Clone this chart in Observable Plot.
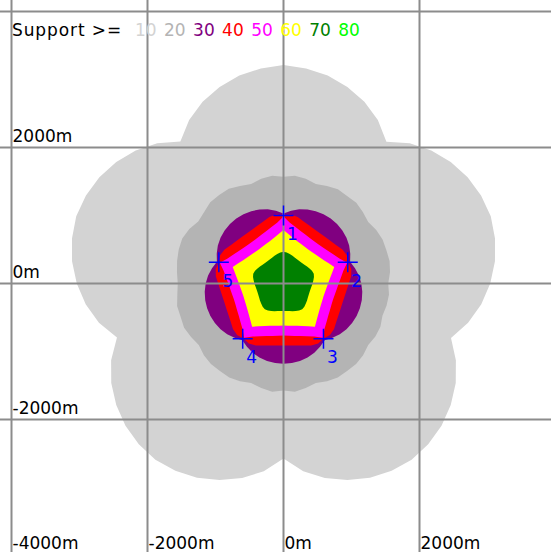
<!DOCTYPE html>
<html>
<head>
<meta charset="utf-8">
<script src="https://cdn.jsdelivr.net/npm/d3@7"></script>
<script src="https://cdn.jsdelivr.net/npm/@observablehq/plot@0.6"></script>
<style>
  html, body { margin: 0; padding: 0; background: #ffffff; overflow: hidden; }
  #wrap { position: relative; width: 551px; height: 552px; }
  #legend { position: absolute; left: 12px; top: 20px; font: 17px "DejaVu Sans", sans-serif; line-height: 20px; white-space: pre; display: flex; }
  #legend .lab { width: 123px; letter-spacing: 0.9px; color: #000; }
  #legend .num { margin-right: 7.4px; }
</style>
</head>
<body>
<div id="wrap"><div id="legend"></div></div>
<script>
// ---- Legend / support levels ----
const levels = [10, 20, 30, 40, 50, 60, 70, 80];
const levelColors = ["#d3d3d3", "#b4b4b4", "#800080", "#ff0000", "#ff00ff", "#ffff00", "#008000", "#00ff00"];
const legendTitle = "Support >=";

// ---- Boundary sampling angles (degrees, counter-clockwise from east) ----
const angles = [0, 6, 12, 18, 24, 30, 36, 42, 48, 54, 60, 66,
  72, 78, 84, 90, 96, 102, 108, 114, 120, 126, 132, 138,
  144, 150, 156, 162, 168, 174, 180, 186, 192, 198, 204, 210,
  216, 222, 228, 234, 240, 246, 252, 258, 264, 270, 276, 282,
  288, 294, 300, 306, 312, 318, 324, 330, 336, 342, 348, 354];

// ---- Outer boundary distance (m) from the centre of each support region, read at the angles above ----
const radius10 = [3040, 3127, 3180, 3205, 3180, 3127, 3040, 2925, 2775, 2575, 2775, 2925,
  3040, 3127, 3180, 3215, 3180, 3127, 3040, 2925, 2775, 2580, 2775, 2925,
  3040, 3127, 3180, 3205, 3180, 3127, 3040, 2925, 2775, 2575, 2775, 2925,
  3040, 3127, 3180, 3205, 3180, 3127, 3040, 2925, 2775, 2575, 2775, 2925,
  3040, 3127, 3180, 3205, 3180, 3127, 3040, 2925, 2775, 2590, 2775, 2925];
const radius20 = [1540, 1575, 1595, 1590, 1595, 1575, 1540, 1570, 1600, 1590, 1600, 1570,
  1540, 1575, 1595, 1570, 1595, 1575, 1540, 1570, 1610, 1610, 1610, 1570,
  1550, 1600, 1630, 1620, 1600, 1575, 1555, 1570, 1600, 1590, 1600, 1570,
  1540, 1575, 1595, 1590, 1595, 1575, 1540, 1570, 1600, 1575, 1600, 1570,
  1540, 1575, 1595, 1590, 1595, 1575, 1540, 1560, 1560, 1530, 1550, 1560];
const radius30 = [1145, 1115, 1075, 1030, 1075, 1115, 1145, 1165, 1177, 1181, 1177, 1165,
  1145, 1115, 1075, 1030, 1075, 1115, 1145, 1165, 1177, 1181, 1177, 1165,
  1145, 1115, 1075, 1030, 1075, 1115, 1145, 1165, 1177, 1181, 1177, 1165,
  1145, 1115, 1075, 1030, 1075, 1115, 1145, 1165, 1177, 1181, 1177, 1165,
  1145, 1115, 1075, 1030, 1075, 1115, 1145, 1165, 1177, 1181, 1177, 1165];
const radius40 = [960, 1000, 1020, 1000, 1020, 1000, 960, 933, 918, 912, 918, 933,
  960, 1000, 1020, 1000, 1020, 1000, 960, 933, 918, 912, 918, 933,
  960, 1000, 1020, 1000, 1020, 1000, 960, 933, 918, 912, 918, 933,
  960, 1000, 1020, 1000, 1020, 1000, 960, 933, 918, 912, 918, 933,
  960, 1000, 1020, 1000, 1020, 1000, 960, 933, 918, 912, 918, 933];
const radius50 = [812, 850, 900, 985, 900, 850, 812, 788, 772, 766, 772, 788,
  812, 850, 900, 985, 900, 850, 812, 788, 772, 766, 772, 788,
  812, 850, 900, 985, 900, 850, 812, 788, 772, 766, 772, 788,
  812, 850, 900, 985, 900, 850, 812, 788, 772, 766, 772, 788,
  812, 850, 900, 985, 900, 850, 812, 788, 772, 766, 772, 788];
const radius60 = [655, 685, 728, 785, 728, 685, 655, 635, 623, 618, 623, 635,
  655, 685, 728, 785, 728, 685, 655, 635, 623, 618, 623, 635,
  655, 685, 728, 785, 728, 685, 655, 635, 623, 618, 623, 635,
  655, 685, 728, 785, 728, 685, 655, 635, 623, 618, 623, 635,
  655, 685, 728, 785, 728, 685, 655, 635, 623, 618, 623, 635];
const radius70 = [428, 442, 458, 468, 458, 442, 428, 414, 406, 403, 406, 414,
  428, 442, 458, 468, 458, 442, 428, 414, 406, 403, 406, 414,
  428, 442, 458, 468, 458, 442, 428, 414, 406, 403, 406, 414,
  428, 442, 458, 468, 458, 442, 428, 414, 406, 403, 406, 414,
  428, 442, 458, 468, 458, 442, 428, 414, 406, 403, 406, 414];

// ---- Stations ----
const stationX = [0, 945, 588, -600, -951];
const stationY = [1000, 311, -811, -811, 311];
const stationLabels = ["1", "2", "3", "4", "5"];

// ---- Grid / ticks ----
const gridX = [-4000, -2000, 0, 2000, 4000];
const gridY = [-4000, -2000, 0, 2000, 4000];
const xTickLabels = [-4000, -2000, 0, 2000];
const yTickLabels = [2000, 0, -2000];

// ---- Build tables ----
const regionRadii = [radius10, radius20, radius30, radius40, radius50, radius60, radius70];
const regions = [];
regionRadii.forEach((radii, i) => {
  radii.forEach((r, k) => {
    const a = angles[k] * Math.PI / 180;
    regions.push({level: levels[i], x: r * Math.cos(a), y: r * Math.sin(a)});
  });
});
const stations = stationX.map((x, i) => ({x, y: stationY[i], label: stationLabels[i]}));

const chart = Plot.plot({
  width: 551,
  height: 552,
  margin: 0,
  x: {domain: [-4000, 4000], range: [11, 555], axis: null},
  y: {domain: [-4000, 4000], range: [555, 11], axis: null},
  color: {type: "ordinal", domain: levels, range: levelColors},
  style: {fontFamily: "DejaVu Sans, sans-serif", fontSize: "17px", background: "#ffffff", color: "#000"},
  marks: [
    Plot.line(regions, {x: "x", y: "y", z: "level", fill: "level", stroke: "none", curve: "linear-closed"}),
    Plot.ruleX(gridX, {stroke: "#8c8c8c", strokeWidth: 2}),
    Plot.ruleY(gridY, {stroke: "#8c8c8c", strokeWidth: 2}),
    Plot.dot(stations, {x: "x", y: "y", symbol: "plus", r: 6.5, stroke: "#0000ff", strokeWidth: 1.5}),
    Plot.text(stations, {x: "x", y: "y", text: "label", dx: 9, dy: 19, fill: "#0000ff", fontSize: 17}),
    Plot.text(yTickLabels, {x: () => -4000, y: d => d, text: d => d + "m", textAnchor: "start", lineAnchor: "bottom", dx: 1, dy: -6, fill: "#000", fontSize: 17}),
    Plot.text(xTickLabels, {x: d => d, y: () => -4000, text: d => d + "m", textAnchor: "start", lineAnchor: "bottom", dx: 1, dy: -7, fill: "#000", fontSize: 17})
  ]
});
const wrap = document.getElementById("wrap");
wrap.insertBefore(chart, wrap.firstChild);

// Legend (overlaid inside the plot frame, as in the reference)
const legend = document.getElementById("legend");
const lab = document.createElement("span");
lab.className = "lab";
lab.textContent = legendTitle;
legend.appendChild(lab);
levels.forEach((lv, i) => {
  const s = document.createElement("span");
  s.className = "num";
  s.textContent = String(lv);
  s.style.color = levelColors[i];
  legend.appendChild(s);
});
</script>
</body>
</html>
